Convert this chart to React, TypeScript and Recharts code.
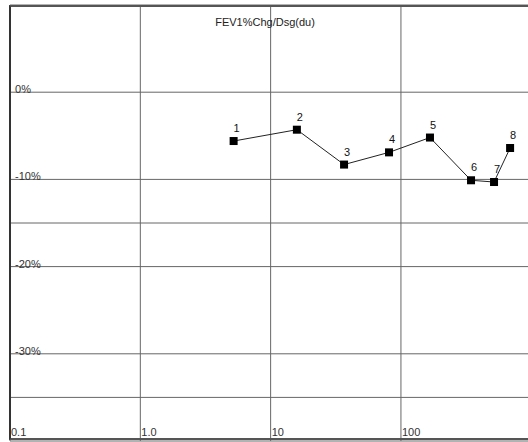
import { LineChart, Line, XAxis, YAxis, CartesianGrid, LabelList } from 'recharts';

const doses = [5.2, 15.9, 36.6, 81, 167, 345, 518, 688];
const fevChange = [-5.6, -4.3, -8.3, -6.9, -5.2, -10.1, -10.3, -6.4];
const pointLabels = ['1', '2', '3', '4', '5', '6', '7', '8'];

const xTicks = [0.1, 1, 10, 100];
const xTickLabels = ['0.1', '1.0', '10', '100'];
const yTicks = [10, 0, -10, -15, -20, -30, -35, -40];
const yLabelled = [0, -10, -20, -30];

const data = doses.map((d, i) => ({ dose: d, chg: fevChange[i], label: pointLabels[i] }));

const FONT = '"Liberation Sans", Arial, sans-serif';

function SquareDot(props: any) {
  const { cx, cy } = props;
  if (cx == null || cy == null) return <g />;
  return <rect x={cx - 4} y={cy - 4} width={8} height={8} fill="#000" />;
}

function YTick(props: any) {
  const { x, y, payload } = props;
  if (!yLabelled.includes(payload.value)) return <g />;
  return (
    <text x={x + 7} y={y + 1} fill="#333" fontSize={11} fontFamily={FONT} textAnchor="start">
      {payload.value}%
    </text>
  );
}

function XTick(props: any) {
  const { x, y, payload } = props;
  const idx = xTicks.indexOf(payload.value);
  return (
    <text x={x + 1} y={y - 5} fill="#333" fontSize={11} fontFamily={FONT} textAnchor="start">
      {idx >= 0 ? xTickLabels[idx] : ''}
    </text>
  );
}

function PointLabel(props: any) {
  const { x, y, value } = props;
  return (
    <text x={x + 3} y={y - 9} fill="#111" fontSize={11} fontFamily={FONT} textAnchor="middle">
      {value}
    </text>
  );
}

export default function App() {
  return (
    <div style={{ position: 'absolute', left: 0, top: 0, width: 528, height: 442, background: '#fff', overflow: 'hidden' }}>
      <LineChart
        width={528}
        height={442}
        data={data}
        margin={{ top: 5, right: 0, bottom: 0, left: 0 }}
      >
        <CartesianGrid stroke="#666" strokeWidth={1} verticalValues={xTicks} horizontalValues={yTicks} />
        <XAxis
          dataKey="dose"
          type="number"
          scale="log"
          domain={[0.1, 944]}
          ticks={xTicks}
          allowDataOverflow
          height={1}
          axisLine={false}
          tickLine={false}
          tickSize={0}
          tickMargin={0}
          tick={<XTick />}
          interval={0}
        />
        <YAxis
          type="number"
          domain={[-40, 10]}
          ticks={yTicks}
          allowDataOverflow
          width={10}
          axisLine={false}
          tickLine={false}
          tickSize={0}
          tick={<YTick />}
          interval={0}
        />
        <Line
          dataKey="chg"
          stroke="#222"
          strokeWidth={1}
          dot={<SquareDot />}
          activeDot={false}
          isAnimationActive={false}
        >
          <LabelList dataKey="label" content={<PointLabel />} />
        </Line>
      </LineChart>
      <div
        style={{
          position: 'absolute',
          left: 9,
          top: 5,
          width: 540,
          height: 435,
          borderLeft: '2px solid #333',
          borderTop: '2px solid #555',
          borderBottom: '2px solid #555',
          boxSizing: 'border-box',
          pointerEvents: 'none',
          zIndex: 2,
        }}
      />
      <div
        style={{
          position: 'absolute',
          left: 0,
          width: 530,
          top: 16,
          textAlign: 'center',
          fontFamily: FONT,
          fontSize: 11,
          color: '#222',
        }}
      >
        FEV1%Chg/Dsg(du)
      </div>
    </div>
  );
}
